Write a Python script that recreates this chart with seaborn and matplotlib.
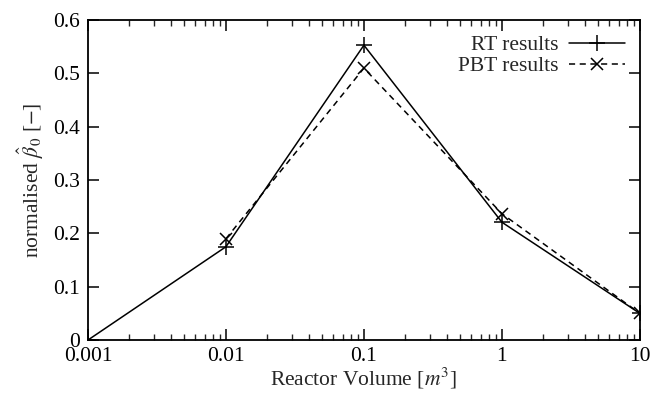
import matplotlib
matplotlib.use("Agg")
import matplotlib.pyplot as plt
import seaborn as sns
import pandas as pd
import numpy as np
from matplotlib.ticker import LogLocator, NullFormatter

# data
rt_volume = [0.001, 0.01, 0.1, 1, 10]
rt_beta = [0.0, 0.175, 0.553, 0.221, 0.05]
pbt_volume = [0.01, 0.1, 1, 10]
pbt_beta = [0.19, 0.51, 0.237, 0.05]
x_ticks = [0.001, 0.01, 0.1, 1, 10]
x_tick_labels = ["0.001", "0.01", "0.1", "1", "10"]
y_ticks = [0, 0.1, 0.2, 0.3, 0.4, 0.5, 0.6]
y_tick_labels = ["0", "0.1", "0.2", "0.3", "0.4", "0.5", "0.6"]

sns.set_style("ticks")
plt.rcParams["font.family"] = ["Liberation Serif", "DejaVu Serif"]
plt.rcParams["mathtext.fontset"] = "stix"

fig = plt.figure(figsize=(6.51, 3.95), dpi=100)
ax = fig.add_axes([0.135, 0.139, 0.848, 0.81])

df_rt = pd.DataFrame({"v": rt_volume, "b": rt_beta})
df_pbt = pd.DataFrame({"v": pbt_volume, "b": pbt_beta})

sns.lineplot(data=df_rt, x="v", y="b", ax=ax, color="black", linewidth=1.1,
             marker="+", markersize=11, markeredgewidth=1.1,
             markeredgecolor="black", markerfacecolor="black", label="RT results")
sns.lineplot(data=df_pbt, x="v", y="b", ax=ax, color="black", linewidth=1.1,
             linestyle=(0, (4, 3)), marker="x", markersize=8, markeredgewidth=1.1,
             markeredgecolor="black", markerfacecolor="black", label="PBT results")

ax.set_xscale("log")
ax.set_xlim(0.001, 10)
ax.set_ylim(0, 0.6)
ax.set_xticks(x_ticks)
ax.set_xticklabels(x_tick_labels)
ax.xaxis.set_minor_locator(LogLocator(base=10, subs=np.arange(2, 10)))
ax.xaxis.set_minor_formatter(NullFormatter())
ax.set_yticks(y_ticks)
ax.set_yticklabels(y_tick_labels)

for s in ax.spines.values():
    s.set_visible(True)
    s.set_linewidth(1.3)
    s.set_color("black")

ax.tick_params(axis="both", which="major", direction="in", length=8, width=1.1,
               top=True, right=True, labelsize=15.5, colors="black")
ax.tick_params(axis="y", which="major", pad=6)
ax.tick_params(axis="x", which="major", pad=5)
ax.tick_params(axis="x", which="minor", direction="in", length=4, width=1.0,
               top=True, bottom=True)

ax.set_xlabel("Reactor Volume [$m^3$]", fontsize=15.5, labelpad=0)
ax.set_ylabel(r"normalised $\hat{\beta}_0$ [$-$]", fontsize=15.5, labelpad=5)

leg = ax.legend(loc="upper right", frameon=False, markerfirst=False, fontsize=15.5,
                handlelength=2.6, borderaxespad=0.3, labelspacing=0.05,
                handletextpad=0.5)

fig.savefig("out.png", dpi=100)
